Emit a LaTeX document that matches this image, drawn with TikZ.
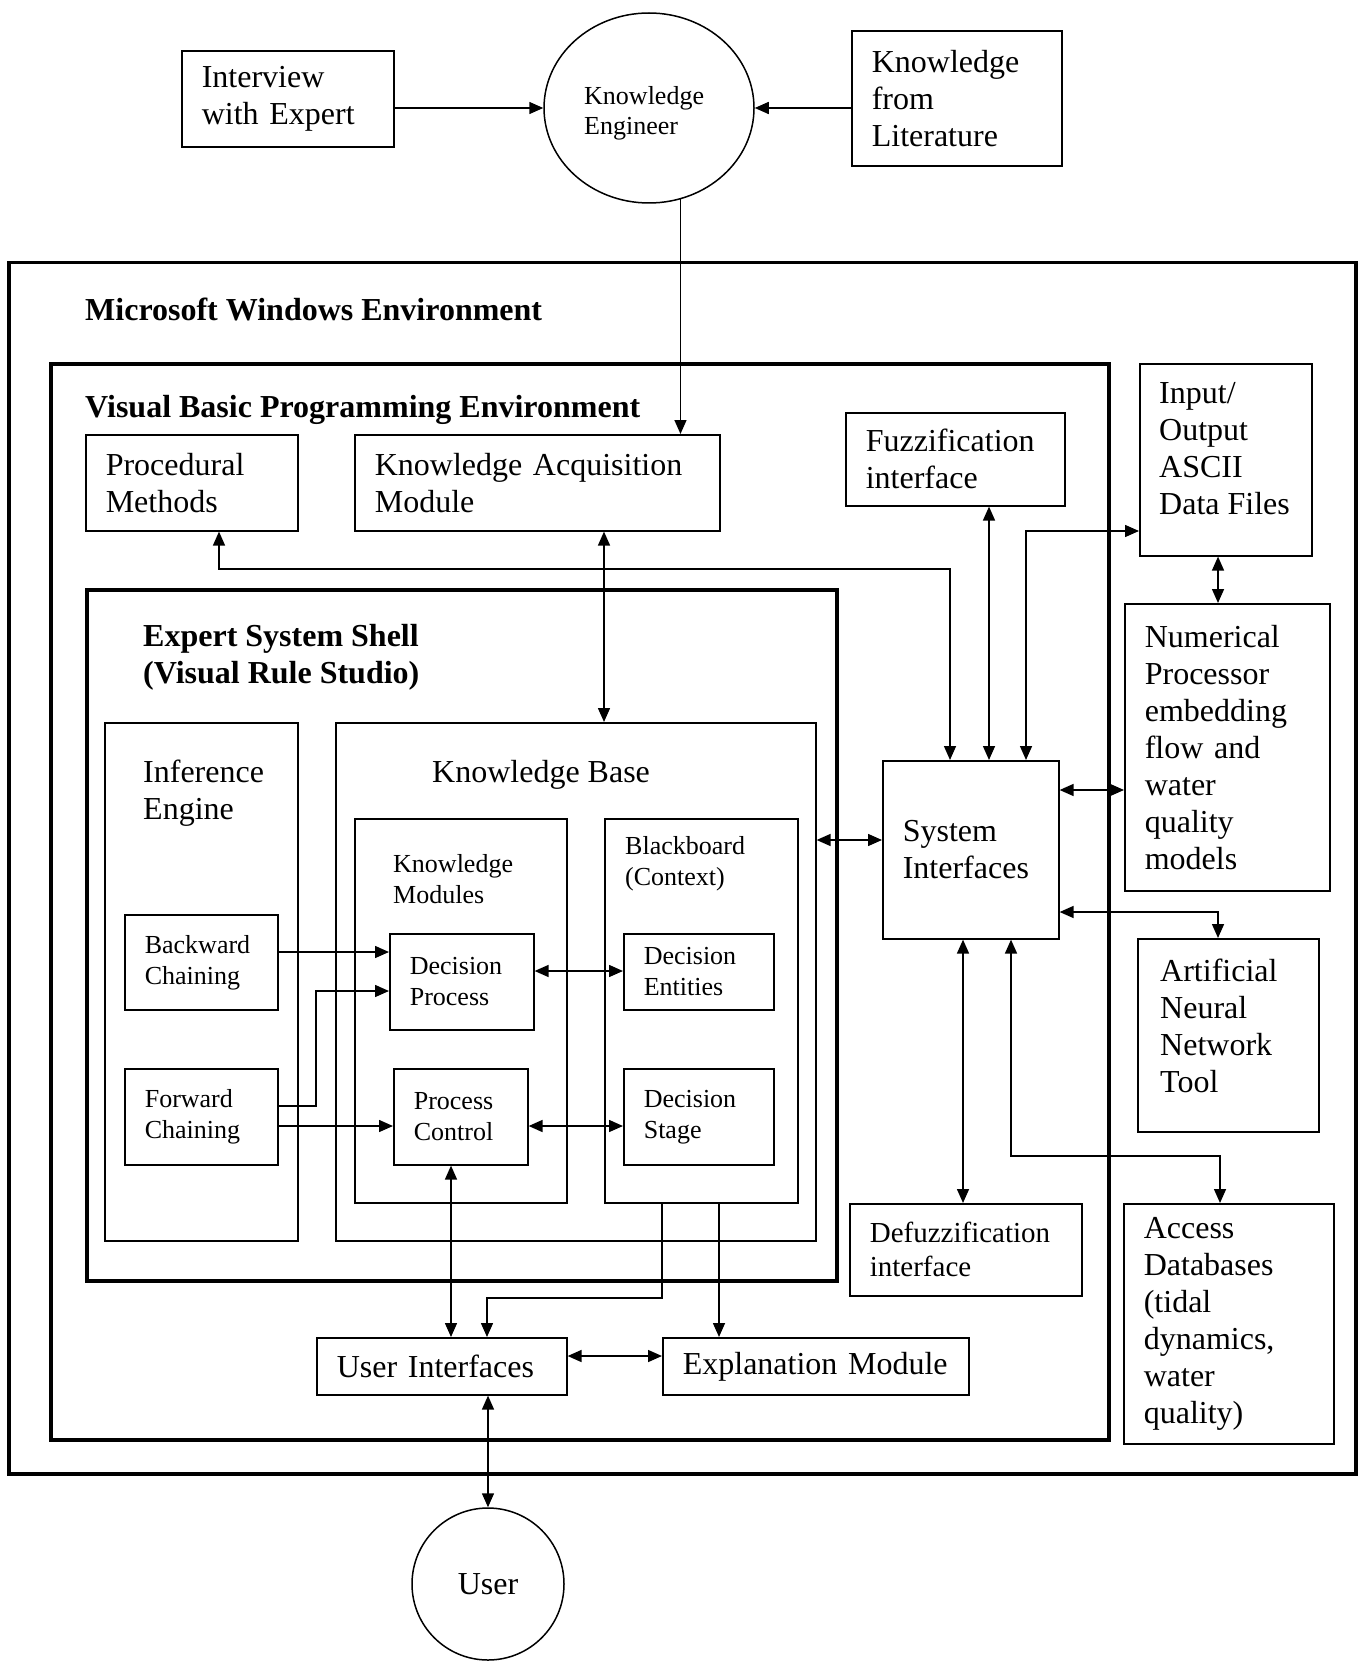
\documentclass[tikz,border=0pt]{standalone}
\usepackage{fontspec}
\setmainfont{Liberation Serif}
\usetikzlibrary{arrows.meta,shapes.geometric}

\tikzset{
  envbox/.style={draw,line width=3.5pt,anchor=north west,inner sep=0pt},
  inbox/.style={draw,line width=1.6pt,anchor=north west,inner sep=0pt},
  modbox/.style={draw,line width=1.6pt,anchor=north west,align=left,inner xsep=20pt,inner ysep=0pt,font=\fontsize{32}{37}\selectfont},
  smodbox/.style={modbox,font=\fontsize{26}{31}\selectfont},
  envlbl/.style={anchor=north west,inner sep=0pt,align=left,font=\bfseries\fontsize{32}{37}\selectfont},
  lbl/.style={anchor=north west,inner sep=0pt,align=left,font=\fontsize{32}{37}\selectfont},
  slbl/.style={lbl,font=\fontsize{26}{31}\selectfont},
  arr/.style={line width=1.5pt,-{Triangle[length=14pt,width=12pt]}},
  dbl/.style={line width=1.5pt,{Triangle[length=14pt,width=12pt]}-{Triangle[length=14pt,width=12pt]}}
}

\begin{document}
\begin{tikzpicture}[x=1pt,y=-1pt]
\useasboundingbox (0,0) rectangle (1362,1661);

\node[modbox,minimum height=96pt,text width=172pt] (iv) at (181,50) {Interview\\with Expert};
\node[draw,ellipse,line width=1.5pt,minimum width=210pt,minimum height=190pt,inner sep=0pt] (ke) at (649,108) {};
\node[slbl,font=\fontsize{26}{30}\selectfont] (ke-t) at (584,86) {Knowledge\\Engineer};
\node[modbox,minimum height=135pt,text width=170pt] (lit) at (851,30) {Knowledge\\from\\Literature};

\node[envbox,minimum width=1347pt,minimum height=1211pt] (mwe) at (7,261) {};
\node[envlbl] (mwe-t) at (85,298) {Microsoft Windows Environment};
\node[envbox,minimum width=1058pt,minimum height=1076pt] (vb) at (49,362) {};
\node[envlbl] (vb-t) at (85,395) {Visual Basic Programming Environment};

\node[modbox,minimum height=96pt,text width=172pt] (pm) at (85,434) {Procedural\\Methods};
\node[modbox,minimum height=96pt,text width=325pt] (kam) at (354,434) {Knowledge Acquisition\\Module};
\node[modbox,minimum height=93pt,text width=179pt] (fz) at (845,412) {Fuzzification\\interface};
\node[inbox,minimum width=172pt,minimum height=192pt] (io) at (1139,363) {};
\node[lbl] (io-t) at (1159,382) {Input/\\Output\\ASCII\\Data~Files};
\node[modbox,minimum height=287pt,text width=165pt] (num) at (1124,603) {Numerical\\Processor\\embedding\\flow and\\water\\quality\\models};
\node[modbox,minimum height=178pt,text width=136pt] (si) at (882,760) {System\\Interfaces};
\node[inbox,minimum width=181pt,minimum height=193pt] (ann) at (1137,938) {};
\node[lbl] (ann-t) at (1160,959) {Artificial\\Neural\\Network\\Tool};
\node[modbox,minimum height=92pt,text width=192pt,font=\fontsize{29}{34}\selectfont] (df) at (849,1203) {Defuzzification\\interface};
\node[modbox,minimum height=240pt,text width=170pt] (acc) at (1123,1203) {Access\\Databases\\(tidal\\dynamics,\\water\\quality)};

\node[envbox,minimum width=750pt,minimum height=691pt] (ess) at (85,588) {};
\node[envlbl] (ess-t) at (143,624) {Expert System Shell\\(Visual Rule Studio)};
\node[inbox,minimum width=193pt,minimum height=518pt] (ie) at (104,722) {};
\node[lbl] (ie-t) at (143,760) {Inference\\Engine};
\node[inbox,minimum width=480pt,minimum height=518pt] (kb) at (335,722) {};
\node[lbl] (kb-t) at (432,760) {Knowledge Base};
\node[inbox,minimum width=212pt,minimum height=384pt] (km) at (354,818) {};
\node[slbl] (km-t) at (393,854) {Knowledge\\Modules};
\node[inbox,minimum width=193pt,minimum height=384pt] (bb) at (604,818) {};
\node[slbl] (bb-t) at (625,836) {Blackboard\\(Context)};

\node[smodbox,minimum height=95pt,text width=113pt] (bc) at (124,914) {Backward\\Chaining};
\node[smodbox,minimum height=96pt,text width=113pt] (fc) at (124,1068) {Forward\\Chaining};
\node[smodbox,minimum height=96pt,text width=104pt] (dp) at (389,933) {Decision\\Process};
\node[smodbox,minimum height=96pt,text width=94pt] (pc) at (393,1068) {Process\\Control};
\node[smodbox,minimum height=76pt,text width=110pt] (de) at (623,933) {Decision\\Entities};
\node[smodbox,minimum height=96pt,text width=110pt] (ds) at (623,1068) {Decision\\Stage};

\node[modbox,minimum height=57pt,text width=210pt] (ui) at (316,1337) {User Interfaces};
\node[modbox,minimum height=57pt,text width=266pt] (em) at (662,1337) {Explanation Module};
\node[draw,circle,line width=1.5pt,minimum size=152pt,inner sep=0pt,font=\fontsize{32}{37}\selectfont] (user) at (488,1584) {User};

\coordinate (c-pm) at (219,569);
\coordinate (c-si) at (950,569);
\coordinate (c-ka) at (604,600);
\coordinate (c-fz) at (989,600);
\coordinate (c-io) at (1026,531);
\coordinate (c-nu) at (1218,600);
\coordinate (c-sn) at (1000,790);
\coordinate (c-kb) at (850,840);
\coordinate (c-an) at (1218,912);
\coordinate (c-df) at (963,1000);
\coordinate (c-ac1) at (1011,1156);
\coordinate (c-ac2) at (1220,1156);
\coordinate (c-bc) at (300,952);
\coordinate (c-fc1) at (316,1106);
\coordinate (c-fc2) at (316,991);
\coordinate (c-fc3) at (350,1126);
\coordinate (c-de) at (580,971);
\coordinate (c-ds) at (580,1126);
\coordinate (c-pc) at (451,1300);
\coordinate (c-bb1) at (662,1298);
\coordinate (c-bb2) at (487,1298);
\coordinate (c-em) at (719,1300);
\coordinate (c-ue) at (610,1356);

\draw[arr] (iv.east |- ke.west) -- (ke.west);
\draw[arr] (lit.west |- ke.east) -- (ke.east);
\draw[arr] (ke.289) -- (ke.289 |- kam.north);

\draw[dbl] (c-pm |- pm.south) -- (c-pm) -- (c-si) -- (c-si |- si.north);
\draw[dbl] (c-ka |- kam.south) -- (c-ka |- kb.north);
\draw[dbl] (c-fz |- fz.south) -- (c-fz |- si.north);
\draw[dbl] (c-io |- si.north) -- (c-io) -- (c-io -| io.west);
\draw[dbl] (c-nu |- io.south) -- (c-nu |- num.north);
\draw[dbl] (c-sn -| si.east) -- (c-sn -| num.west);
\draw[dbl] (c-kb -| kb.east) -- (c-kb -| si.west);
\draw[dbl] (c-an -| si.east) -- (c-an) -- (c-an |- ann.north);
\draw[dbl] (c-df |- si.south) -- (c-df |- df.north);
\draw[dbl] (c-ac1 |- si.south) -- (c-ac1) -- (c-ac2) -- (c-ac2 |- acc.north);

\draw[arr] (c-bc -| bc.east) -- (c-bc -| dp.west);
\draw[arr] (c-fc1 -| fc.east) -- (c-fc1) -- (c-fc2) -- (c-fc2 -| dp.west);
\draw[arr] (c-fc3 -| fc.east) -- (c-fc3 -| pc.west);
\draw[dbl] (c-de -| dp.east) -- (c-de -| de.west);
\draw[dbl] (c-ds -| pc.east) -- (c-ds -| ds.west);

\draw[dbl] (c-pc |- pc.south) -- (c-pc |- ui.north);
\draw[arr] (c-bb1 |- bb.south) -- (c-bb1) -- (c-bb2) -- (c-bb2 |- ui.north);
\draw[arr] (c-em |- bb.south) -- (c-em |- em.north);
\draw[dbl] (c-ue -| ui.east) -- (c-ue -| em.west);
\draw[dbl] (user.north) -- (user.north |- ui.south);
\end{tikzpicture}
\end{document}
